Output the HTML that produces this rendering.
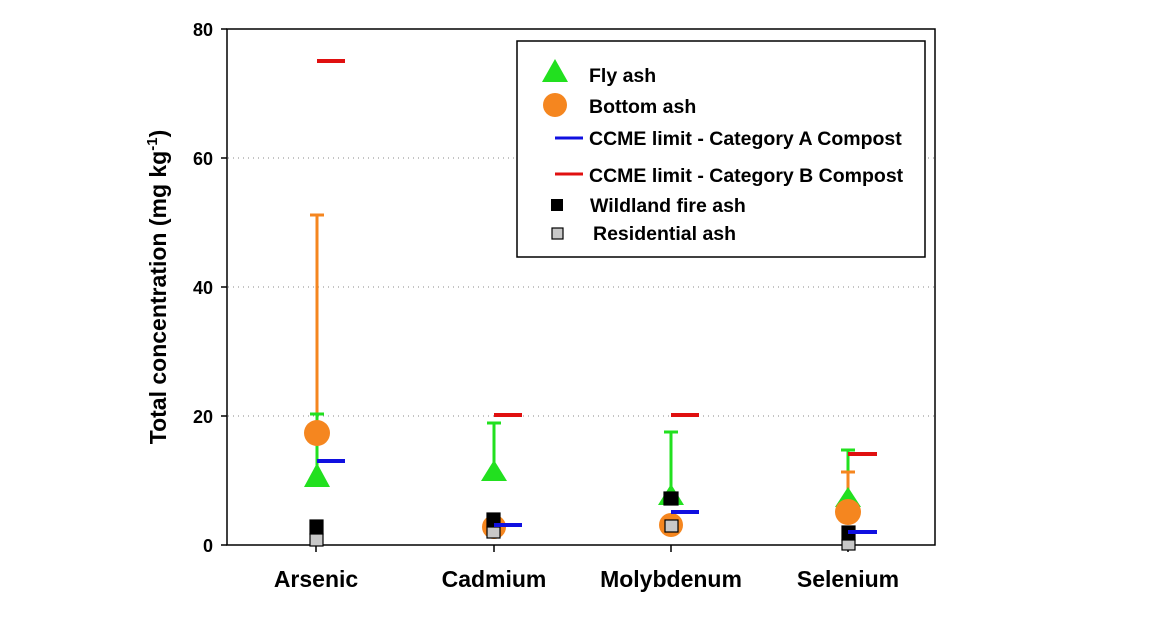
<!DOCTYPE html>
<html><head><style>body{margin:0;background:#fff}svg{display:block}text{font-family:"Liberation Sans",Arial,sans-serif;font-weight:bold}</style></head>
<body>
<svg width="1170" height="622" viewBox="0 0 1170 622">
<g stroke="#888" stroke-width="1" stroke-dasharray="1,4">
<line x1="228" y1="158" x2="934" y2="158"/><line x1="228" y1="287" x2="934" y2="287"/><line x1="228" y1="416" x2="934" y2="416"/>
</g>
<rect x="227" y="29" width="708" height="516" fill="none" stroke="#000" stroke-width="1.5"/>
<g stroke="#000" stroke-width="1.5">
<line x1="221" y1="29" x2="227" y2="29"/><line x1="221" y1="158" x2="227" y2="158"/><line x1="221" y1="287" x2="227" y2="287"/><line x1="221" y1="416" x2="227" y2="416"/><line x1="221" y1="545" x2="227" y2="545"/>
<line x1="316" y1="545" x2="316" y2="552"/><line x1="494" y1="545" x2="494" y2="552"/><line x1="671" y1="545" x2="671" y2="552"/><line x1="848" y1="545" x2="848" y2="552"/>
</g>
<g font-size="18" text-anchor="end"><text x="213" y="36">80</text><text x="213" y="165">60</text><text x="213" y="294">40</text><text x="213" y="423">20</text><text x="213" y="552">0</text></g>
<g font-size="23" text-anchor="middle"><text x="316" y="587">Arsenic</text><text x="494" y="587">Cadmium</text><text x="671" y="587">Molybdenum</text><text x="848" y="587">Selenium</text></g>
<text transform="translate(166,287) rotate(-90)" font-size="23" text-anchor="middle">Total concentration (mg kg<tspan dy="-9" font-size="15">-1</tspan><tspan dy="9">)</tspan></text>
<g stroke-width="3">
<line x1="317" y1="433" x2="317" y2="215" stroke="#f5861f"/><line x1="310" y1="215" x2="324" y2="215" stroke="#f5861f"/>
<line x1="317" y1="476" x2="317" y2="414" stroke="#22e01f"/><line x1="310" y1="414" x2="324" y2="414" stroke="#22e01f"/>
<line x1="494" y1="470" x2="494" y2="423" stroke="#22e01f"/><line x1="487" y1="423" x2="501" y2="423" stroke="#22e01f"/>
<line x1="671" y1="495" x2="671" y2="432" stroke="#22e01f"/><line x1="664" y1="432" x2="678" y2="432" stroke="#22e01f"/>
<line x1="848" y1="498" x2="848" y2="450" stroke="#22e01f"/><line x1="841" y1="450" x2="855" y2="450" stroke="#22e01f"/>
<line x1="848" y1="512" x2="848" y2="472" stroke="#f5861f"/><line x1="841" y1="472" x2="855" y2="472" stroke="#f5861f"/>
</g>
<g fill="#22e01f">
<polygon points="317,463 330,487 304,487"/><polygon points="494,460 507,481 481,481"/><polygon points="671,484 684,505 658,505"/><polygon points="848,487 861,507 835,507"/>
</g>
<g fill="#f5861f"><circle cx="317" cy="433" r="13"/><circle cx="494" cy="527" r="12"/><circle cx="671" cy="525" r="12"/><circle cx="848" cy="512" r="13"/></g>
<g stroke-width="4">
<line x1="317" y1="61" x2="345" y2="61" stroke="#e01010"/><line x1="494" y1="415" x2="522" y2="415" stroke="#e01010"/><line x1="671" y1="415" x2="699" y2="415" stroke="#e01010"/><line x1="848" y1="454" x2="877" y2="454" stroke="#e01010"/>
</g>
<g stroke="#000" stroke-width="1.2">
<rect x="310" y="520" width="13" height="14" fill="#000"/><rect x="310" y="534" width="13" height="12" fill="#c8c8c8"/>
<rect x="487" y="513" width="13" height="14" fill="#000"/><rect x="487" y="527" width="13" height="11" fill="#c8c8c8"/>
<rect x="664" y="492" width="14" height="13" fill="#000"/><rect x="665" y="520" width="13" height="12" fill="#c8c8c8"/>
<rect x="842" y="526" width="13" height="14" fill="#000"/><rect x="842" y="540" width="13" height="10" fill="#c8c8c8"/>
</g>
<g stroke-width="4" stroke="#1010e0">
<line x1="317" y1="461" x2="345" y2="461"/><line x1="494" y1="525" x2="522" y2="525"/><line x1="671" y1="512" x2="699" y2="512"/><line x1="848" y1="532" x2="877" y2="532"/>
</g>
<rect x="517" y="41" width="408" height="216" fill="#fff" stroke="#000" stroke-width="1.5"/>
<polygon points="555,59 568,82 542,82" fill="#22e01f"/>
<circle cx="555" cy="105" r="12" fill="#f5861f"/>
<line x1="555" y1="138" x2="583" y2="138" stroke="#1010e0" stroke-width="3"/>
<line x1="555" y1="174" x2="583" y2="174" stroke="#e01010" stroke-width="3"/>
<rect x="551" y="199" width="12" height="12" fill="#000"/>
<rect x="552" y="228" width="11" height="11" fill="#c8c8c8" stroke="#000" stroke-width="1.2"/>
<g font-size="19.5"><text x="589" y="82">Fly ash</text><text x="589" y="113">Bottom ash</text><text x="589" y="145">CCME limit - Category A Compost</text><text x="589" y="182">CCME limit - Category B Compost</text><text x="590" y="212">Wildland fire ash</text><text x="593" y="240">Residential ash</text></g>
</svg>
</body></html>
